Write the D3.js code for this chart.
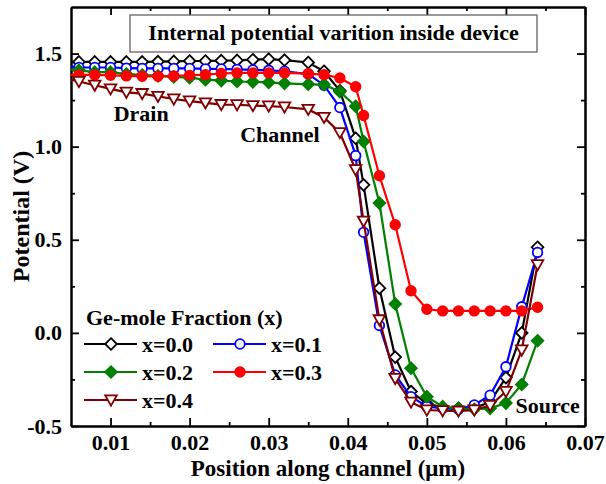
<!DOCTYPE html>
<html lang="en">
<head>
<meta charset="UTF-8">
<title>Internal potential varition inside device</title>
<style>
body { margin: 0; background: #fff; }
svg text { font-family: "Liberation Serif", "Times New Roman", serif; font-weight: bold; fill: #000; }
.axis .domain { stroke: #000; stroke-width: 2; }
.axis .tick line { stroke: #000; stroke-width: 1.8; }
.axis text { font-size: 22px; }
</style>
<script src="https://cdn.jsdelivr.net/npm/d3@7"></script>
</head>
<body>
<svg width="606" height="484"></svg>
<script>
// position along channel (um) of each mesh point
var positions = [0.005, 0.006, 0.008, 0.010, 0.012, 0.014, 0.016, 0.018, 0.020, 0.022, 0.024, 0.026,
    0.028, 0.030, 0.032, 0.035, 0.037, 0.039, 0.041, 0.042, 0.044, 0.046, 0.048, 0.050,
    0.052, 0.054, 0.056, 0.058, 0.060, 0.062, 0.064];

// potential (V) for each Ge-mole fraction
var pot00 = [1.455, 1.455, 1.455, 1.455, 1.455, 1.455, 1.457, 1.458, 1.46, 1.46, 1.462, 1.463,
    1.467, 1.47, 1.465, 1.452, 1.405, 1.30, 1.045, 0.795, 0.24, -0.13, -0.315, -0.38,
    -0.40, -0.405, -0.405, -0.37, -0.24, 0.0, 0.46];
var pot01 = [1.43, 1.425, 1.425, 1.425, 1.422, 1.42, 1.42, 1.42, 1.42, 1.418, 1.417, 1.415,
    1.412, 1.41, 1.405, 1.39, 1.33, 1.21, 0.952, 0.54, 0.04, -0.226, -0.343, -0.395,
    -0.405, -0.41, -0.387, -0.335, -0.182, 0.14, 0.432];
var pot02 = [1.415, 1.41, 1.40, 1.40, 1.39, 1.385, 1.38, 1.375, 1.37, 1.36, 1.355, 1.35,
    1.348, 1.345, 1.34, 1.335, 1.333, 1.295, 1.217, 1.028, 0.697, 0.155, -0.19, -0.343,
    -0.396, -0.405, -0.41, -0.405, -0.377, -0.277, -0.042];
var pot03 = [1.385, 1.385, 1.385, 1.383, 1.38, 1.378, 1.378, 1.38, 1.383, 1.387, 1.393, 1.396,
    1.396, 1.396, 1.396, 1.392, 1.387, 1.369, 1.322, 1.167, 0.844, 0.581, 0.226, 0.127,
    0.118, 0.118, 0.118, 0.118, 0.118, 0.118, 0.138];
var pot04 = [1.36, 1.35, 1.33, 1.31, 1.292, 1.285, 1.27, 1.256, 1.245, 1.235, 1.226, 1.225,
    1.22, 1.218, 1.213, 1.20, 1.157, 1.075, 0.876, 0.60, 0.07, -0.245, -0.372, -0.414,
    -0.418, -0.42, -0.414, -0.39, -0.315, -0.092, 0.366];

var seriesNames = ["x=0.0", "x=0.1", "x=0.2", "x=0.3", "x=0.4"];
var seriesValues = [pot00, pot01, pot02, pot03, pot04];
var seriesColors = ["#000000", "#0000ff", "#008000", "#ff0000", "#800000"];
var seriesShapes = ["diamond", "circle", "diamond", "circle", "triangle"];
var seriesFilled = [false, false, true, true, false];

var xTicks = [0.01, 0.02, 0.03, 0.04, 0.05, 0.06, 0.07];
var xMinor = [0.015, 0.025, 0.035, 0.045, 0.055, 0.065];
var yTicks = [-0.5, 0.0, 0.5, 1.0, 1.5];
var yMinor = [-0.25, 0.25, 0.75, 1.25];

var svg = d3.select("svg");
var plotLeft = 71, plotRight = 585, plotTop = 7, plotBottom = 426;

var x = d3.scaleLinear().domain([0.005, 0.07]).range([plotLeft, plotRight]);
var y = d3.scaleLinear().domain([-0.5, 1.75]).range([plotBottom, plotTop]);

function markerPath(shape) {
    if (shape == "diamond") return "M0,-5.8L5.8,0L0,5.8L-5.8,0Z";
    if (shape == "triangle") return "M-5.8,-4.6L5.8,-4.6L0,5.6Z";
    return d3.arc()({ innerRadius: 0, outerRadius: 4.8, startAngle: 0, endAngle: 2 * Math.PI });
}

// axes: major and minor ticks on all four sides, pointing inward
function axisGroup(axis, tx, ty) {
    return svg.append("g").attr("class", "axis").attr("transform", "translate(" + tx + "," + ty + ")").call(axis);
}
axisGroup(d3.axisBottom(x).tickValues(xMinor).tickSize(-4).tickSizeOuter(0).tickFormat(""), 0, plotBottom);
axisGroup(d3.axisTop(x).tickValues(xMinor).tickSize(-4).tickSizeOuter(0).tickFormat(""), 0, plotTop);
axisGroup(d3.axisLeft(y).tickValues(yMinor).tickSize(-4).tickSizeOuter(0).tickFormat(""), plotLeft, 0);
axisGroup(d3.axisRight(y).tickValues(yMinor).tickSize(-4).tickSizeOuter(0).tickFormat(""), plotRight, 0);
axisGroup(d3.axisBottom(x).tickValues(xTicks).tickSize(-8).tickSizeOuter(0).tickPadding(8)
    .tickFormat(function(d) { return d.toFixed(2); }), 0, plotBottom);
axisGroup(d3.axisTop(x).tickValues(xTicks).tickSize(-8).tickSizeOuter(0).tickFormat(""), 0, plotTop);
axisGroup(d3.axisLeft(y).tickValues(yTicks).tickSize(-8).tickSizeOuter(0).tickPadding(9)
    .tickFormat(function(d) { return d.toFixed(1); }), plotLeft, 0);
axisGroup(d3.axisRight(y).tickValues(yTicks).tickSize(-8).tickSizeOuter(0).tickFormat(""), plotRight, 0);

// curves
var line = d3.line()
    .x(function(d) { return x(d[0]); })
    .y(function(d) { return y(d[1]); });

seriesValues.forEach(function(vals, i) {
    var pts = positions.map(function(p, j) { return [p, vals[j]]; });
    svg.append("path")
        .attr("d", line(pts))
        .attr("fill", "none")
        .attr("stroke", seriesColors[i])
        .attr("stroke-width", 2.2);
    svg.selectAll(null)
        .data(pts.slice(1))
        .enter().append("path")
        .attr("d", markerPath(seriesShapes[i]))
        .attr("transform", function(d) { return "translate(" + x(d[0]) + "," + y(d[1]) + ")"; })
        .attr("fill", seriesFilled[i] ? seriesColors[i] : "#fff")
        .attr("stroke", seriesColors[i])
        .attr("stroke-width", 1.8);
});

// title box
svg.append("rect")
    .attr("x", 130).attr("y", 15).attr("width", 407).attr("height", 37)
    .attr("fill", "#fff").attr("stroke", "#555").attr("stroke-width", 1.2);
svg.append("text")
    .attr("x", 333.5).attr("y", 40)
    .attr("text-anchor", "middle").style("font-size", "22px")
    .text("Internal potential varition inside device");

// region labels
var regionLabels = [["Drain", 0.0104, 1.14], ["Channel", 0.0264, 1.027], ["Source", 0.0612, -0.43]];
regionLabels.forEach(function(r) {
    svg.append("text").attr("x", x(r[1])).attr("y", y(r[2]))
        .style("font-size", "22px").text(r[0]);
});

// axis titles
svg.append("text")
    .attr("x", (plotLeft + plotRight) / 2).attr("y", 476)
    .attr("text-anchor", "middle").style("font-size", "23px")
    .text("Position along channel (\u03bcm)");
svg.append("text")
    .attr("transform", "translate(29," + (plotTop + plotBottom) / 2 + ") rotate(-90)")
    .attr("text-anchor", "middle").style("font-size", "24px")
    .text("Potential (V)");

// legend
svg.append("text").attr("x", 86).attr("y", 325).style("font-size", "22px").text("Ge-mole Fraction (x)");
var legendCols = [84, 213], legendRows = [344, 372, 400];
seriesNames.forEach(function(name, i) {
    var lx = legendCols[i % 2], ly = legendRows[Math.floor(i / 2)];
    var g = svg.append("g").attr("transform", "translate(" + lx + "," + ly + ")");
    g.append("line").attr("x1", 0).attr("x2", 53).attr("y1", 0).attr("y2", 0)
        .attr("stroke", seriesColors[i]).attr("stroke-width", 2.2);
    g.append("path").attr("d", markerPath(seriesShapes[i]))
        .attr("transform", "translate(27,0)")
        .attr("fill", seriesFilled[i] ? seriesColors[i] : "#fff")
        .attr("stroke", seriesColors[i]).attr("stroke-width", 1.8);
    g.append("text").attr("x", 58).attr("y", 7.5).style("font-size", "22px").text(name);
});
</script>
</body>
</html>
